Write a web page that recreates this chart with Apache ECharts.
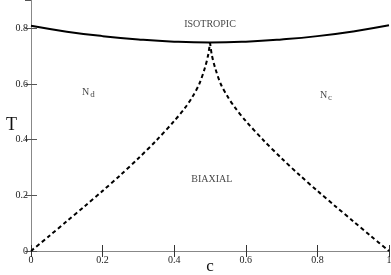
<!DOCTYPE html>
<html><head><meta charset="utf-8">
<script src="https://cdn.jsdelivr.net/npm/echarts@6/dist/echarts.min.js"></script>
<style>html,body{margin:0;padding:0;background:#fff}#c{width:391px;height:275px}</style>
</head><body><div id="c"></div>
<script>
const topC = [0, 0.1, 0.2, 0.3, 0.4, 0.5, 0.6, 0.7, 0.8, 0.9, 1.0];
const topT = [0.809, 0.788, 0.772, 0.760, 0.752, 0.749, 0.752, 0.760, 0.772, 0.789, 0.811];
const leftC = [0, 0.05, 0.1, 0.15, 0.2, 0.25, 0.3, 0.35, 0.4, 0.43, 0.45, 0.47, 0.485, 0.495, 0.5];
const leftT = [0, 0.053, 0.107, 0.161, 0.216, 0.273, 0.333, 0.397, 0.467, 0.514, 0.552, 0.60, 0.655, 0.705, 0.75];
const rightC = [0.5, 0.505, 0.515, 0.53, 0.55, 0.57, 0.6, 0.65, 0.7, 0.75, 0.8, 0.85, 0.9, 0.95, 1];
const rightT = [0.75, 0.705, 0.655, 0.60, 0.553, 0.515, 0.467, 0.397, 0.333, 0.273, 0.216, 0.161, 0.107, 0.053, 0];
const xTicks = [0, 0.2, 0.4, 0.6, 0.8, 1];
const yTicks = [0, 0.2, 0.4, 0.6, 0.8];
const regionNames = ['ISOTROPIC', 'N{s|d}', 'N{s|c}', 'BIAXIAL'];
const regionC = [0.5, 0.16, 0.824, 0.505];
const regionT = [0.813, 0.571, 0.56, 0.259];

const zip = (a, b) => a.map((v, i) => [v, b[i]]);
const serif = 'Liberation Serif';
const chart = echarts.init(document.getElementById('c'));
const baseAxisLine = c => ({show: true, lineStyle: {color: c, width: 1}});
chart.setOption({
  animation: false,
  grid: {left: 31, right: 2, top: 0.5, bottom: 24, containLabel: false, outerBoundsMode: 'none'},
  xAxis: [
    {type: 'value', min: 0, max: 1, interval: 0.2, position: 'bottom',
     axisLine: baseAxisLine('#111'), axisTick: {inside: true, length: 6, lineStyle: {color: '#333'}},
     splitLine: {show: false},
     axisLabel: {fontFamily: serif, fontSize: 10, color: '#222', margin: 4,
       formatter: v => xTicks.includes(+v.toFixed(2)) ? String(+v.toFixed(2)) : ''},
     name: 'c', nameLocation: 'middle', nameGap: 7, nameMoveOverlap: false,
     nameTextStyle: {fontFamily: serif, fontSize: 17, color: '#111'}},
    {type: 'value', min: 0, max: 1, interval: 0.2, position: 'top',
     axisLine: baseAxisLine('#888'), axisTick: {inside: true, length: 6, lineStyle: {color: '#333'}},
     axisLabel: {show: false}, splitLine: {show: false}}
  ],
  yAxis: [
    {type: 'value', min: 0, max: 0.9, interval: 0.2, position: 'left',
     axisLine: baseAxisLine('#888'), axisTick: {inside: true, length: 6, lineStyle: {color: '#555'}},
     splitLine: {show: false},
     axisLabel: {fontFamily: serif, fontSize: 10, color: '#222', margin: 3, showMaxLabel: false,
       formatter: v => yTicks.includes(+v.toFixed(2)) ? String(+v.toFixed(2)) : ''},
     name: 'T', nameLocation: 'middle', nameGap: 14, nameRotate: 0, nameMoveOverlap: false,
     nameTextStyle: {fontFamily: serif, fontSize: 18, color: '#111'}},
    {type: 'value', min: 0, max: 0.9, interval: 0.2, position: 'right',
     axisLine: baseAxisLine('#888'), axisTick: {inside: true, length: 6, lineStyle: {color: '#555'}},
     axisLabel: {show: false}, splitLine: {show: false}}
  ],
  series: [
    {type: 'line', data: zip(topC, topT), smooth: true, symbol: 'none',
     lineStyle: {color: '#000', width: 2}},
    {type: 'line', data: zip(leftC, leftT), smooth: 0.3, symbol: 'none',
     lineStyle: {color: '#000', width: 2, type: [4, 3]}},
    {type: 'line', data: zip(rightC, rightT), smooth: 0.3, symbol: 'none',
     lineStyle: {color: '#000', width: 2, type: [4, 3]}},
    {type: 'scatter', symbolSize: 0, data: zip(regionC, regionT).map((p, i) => ({value: p, name: regionNames[i]})),
     label: {show: true, position: 'inside', formatter: p => p.name,
       fontFamily: serif, color: '#111', fontSize: 10,
       rich: {s: {fontFamily: serif, fontSize: 9, verticalAlign: 'bottom', padding: [6, 0, 0, 1], color: '#111'}}},
     labelLayout: {hideOverlap: false}}
  ]
});
</script></body></html>
